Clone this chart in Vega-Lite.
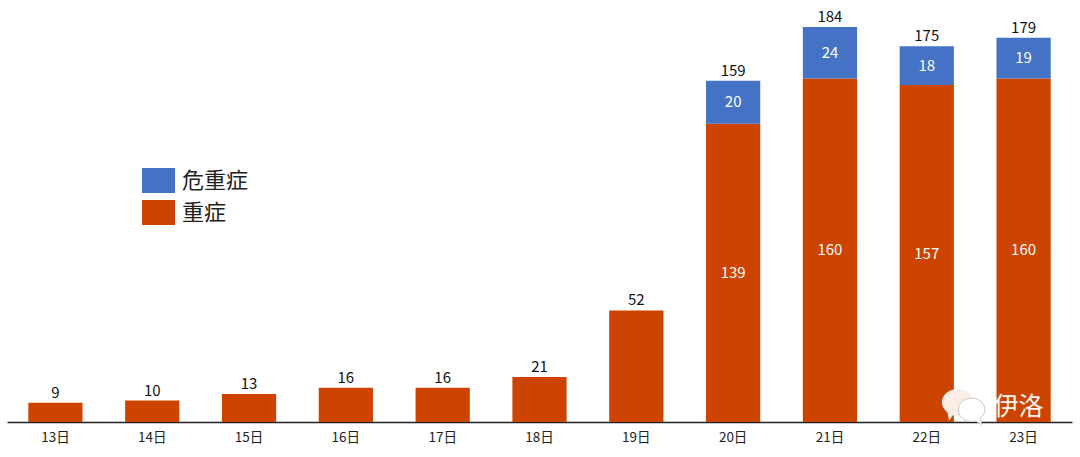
{
"$schema":"https://vega.github.io/schema/vega-lite/v6.json",
"width":1065,"height":422,
"autosize":"none",
"padding":{"left":7,"top":0,"right":8,"bottom":35},
"background":"white",
"config":{"view":{"stroke":null},"font":"Noto Sans CJK SC"},
"datasets":{
"rows":[
{"day":"13日","type":"重症","value":9},
{"day":"14日","type":"重症","value":10},
{"day":"15日","type":"重症","value":13},
{"day":"16日","type":"重症","value":16},
{"day":"17日","type":"重症","value":16},
{"day":"18日","type":"重症","value":21},
{"day":"19日","type":"重症","value":52},
{"day":"20日","type":"重症","value":139},
{"day":"21日","type":"重症","value":160},
{"day":"22日","type":"重症","value":157},
{"day":"23日","type":"重症","value":160},
{"day":"20日","type":"危重症","value":20},
{"day":"21日","type":"危重症","value":24},
{"day":"22日","type":"危重症","value":18},
{"day":"23日","type":"危重症","value":19}
],
"totals":[
{"day":"13日","total":9},
{"day":"14日","total":10},
{"day":"15日","total":13},
{"day":"16日","total":16},
{"day":"17日","total":16},
{"day":"18日","total":21},
{"day":"19日","total":52},
{"day":"20日","total":159},
{"day":"21日","total":184},
{"day":"22日","total":175},
{"day":"23日","total":179}
],
"mark":[{"day":"23日","value":7,"name":"伊洛"}],
"bubbleA":[{"day":"22日","value":9}],
"bubbleB":[{"day":"22日","value":5.6}]
},
"encoding":{
"x":{"field":"day","type":"nominal","sort":null,"scale":{"paddingInner":0.44,"paddingOuter":0.22},
"axis":{"title":null,"labelAngle":0,"ticks":false,"domainColor":"#222222","domainWidth":1.5,"labelFontSize":13.5,"labelColor":"#222222","labelPadding":8,"labelFont":"Noto Sans CJK SC"}}
},
"layer":[
{"data":{"name":"rows"},
"mark":{"type":"bar"},
"encoding":{
"y":{"field":"value","type":"quantitative","stack":"zero","scale":{"domain":[0,196.6],"nice":false},"axis":null},
"color":{"field":"type","type":"nominal","scale":{"domain":["危重症","重症"],"range":["#4472C4","#CC4400"]},
"legend":{"title":null,"orient":"none","legendX":135,"legendY":164,"symbolType":"M-1,-0.76H1V0.76H-1Z","symbolSize":1089,"symbolStrokeWidth":0,"symbolOpacity":1,"labelFontSize":22,"labelColor":"#222222","labelFont":"Noto Sans CJK SC","labelOffset":7,"rowPadding":2,"labelLimit":200}},
"order":{"field":"type","sort":"descending"}
}},
{"data":{"name":"rows"},
"transform":[
{"stack":"value","groupby":["day"],"sort":[{"field":"type","order":"descending"}],"as":["v0","v1"]},
{"filter":{"field":"day","oneOf":["20日","21日","22日","23日"]}},
{"fold":["v0","v1"],"as":["edge","pos"]}
],
"mark":{"type":"text","color":"white","fontSize":15,"baseline":"middle"},
"encoding":{
"y":{"aggregate":"mean","field":"pos","type":"quantitative"},
"detail":{"field":"type"},
"text":{"aggregate":"max","field":"value","type":"quantitative"}
}},
{"data":{"name":"totals"},
"mark":{"type":"text","color":"#111111","fontSize":15,"baseline":"bottom","dy":-2},
"encoding":{
"y":{"field":"total","type":"quantitative"},
"text":{"field":"total","type":"quantitative"}
}},
{"data":{"name":"bubbleA"},
"mark":{"type":"point","shape":"M-1,0A1,0.85,0,1,1,-0.3,0.8L-0.55,1.15L-0.65,0.6A1,0.85,0,0,1,-1,0Z","filled":true,"fill":"#FBEDE6","strokeWidth":0,"opacity":1,"size":1000},
"encoding":{
"y":{"field":"value","type":"quantitative"},
"xOffset":{"value":58}
}},
{"data":{"name":"bubbleB"},
"mark":{"type":"point","shape":"M-1,0A1,0.85,0,1,1,0.65,0.6L0.75,1.1L0.3,0.83A1,0.85,0,0,1,-1,0Z","filled":true,"fill":"white","stroke":"#C8C8C8","strokeWidth":1,"opacity":1,"size":700},
"encoding":{
"y":{"field":"value","type":"quantitative"},
"xOffset":{"value":72}
}},
{"data":{"name":"mark"},
"mark":{"type":"text","color":"white","fontSize":25,"baseline":"middle","dx":-5,"opacity":0.95},
"encoding":{
"y":{"field":"value","type":"quantitative"},
"text":{"field":"name"}
}}
]
}
